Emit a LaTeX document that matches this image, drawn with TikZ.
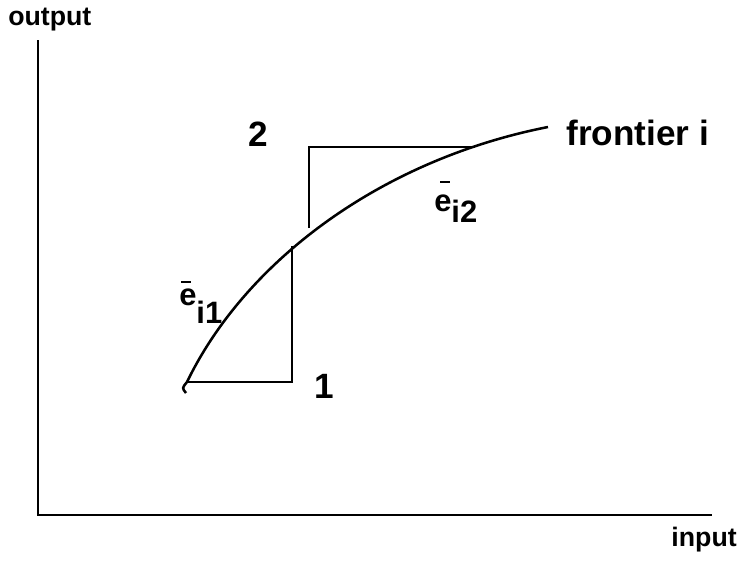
\documentclass[tikz,border=0pt]{standalone}
\usepackage{fontspec}
\setmainfont{Liberation Sans}
\begin{document}
\begin{tikzpicture}[x=0.025cm,y=-0.025cm,
  ln/.style={line width=1.8pt},
  lab/.style={font=\bfseries\fontsize{25}{28}\selectfont, inner sep=0pt},
  axlab/.style={font=\bfseries\fontsize{19}{22}\selectfont, inner sep=0pt},
  elab/.style={font=\bfseries\fontsize{22}{24}\selectfont, inner sep=0pt, anchor=base west},
  ebar/.style={line width=2pt}]
\useasboundingbox (0,0) rectangle (740,561);
% axes
\coordinate (top) at (38,40);
\coordinate (orig) at (38,515);
\coordinate (right) at (712,515);
\draw[ln] (top) -- (orig) -- (right);
\node[axlab, anchor=west] (out) at (8,20) {output};
\node[axlab, anchor=east] (in) at (737,540) {input};
% frontier
\coordinate (c0) at (187,382);
\coordinate (c3) at (548,127);
\draw[ln] (186,393) .. controls (182,388) .. (c0)
  .. controls (245,262) and (380,160) .. (c3);
% box 1
\coordinate (b1a) at (292,382);
\coordinate (b1b) at (292,246);
\draw[ln] (c0) -- (b1a) -- (b1b);
% box 2
\coordinate (b2a) at (309,228);
\coordinate (b2b) at (309,147);
\coordinate (b2c) at (475,147);
\draw[ln] (b2a) -- (b2b) -- (b2c);
% labels
\node[lab] (two) at (258,134) {2};
\node[lab] (one) at (324,386) {1};
\node[lab, anchor=west] (fr) at (566,133) {frontier i};
\node[elab] (e1) at (179,305) {e\raisebox{-13pt}{i1}};
\coordinate (e1l) at (181,282);
\coordinate (e1r) at (191,282);
\draw[ebar] (e1l) -- (e1r);
\node[elab] (e2) at (434,211) {e\raisebox{-8pt}{i2}};
\coordinate (e2l) at (440,182);
\coordinate (e2r) at (450,182);
\draw[ebar] (e2l) -- (e2r);
\end{tikzpicture}
\end{document}
